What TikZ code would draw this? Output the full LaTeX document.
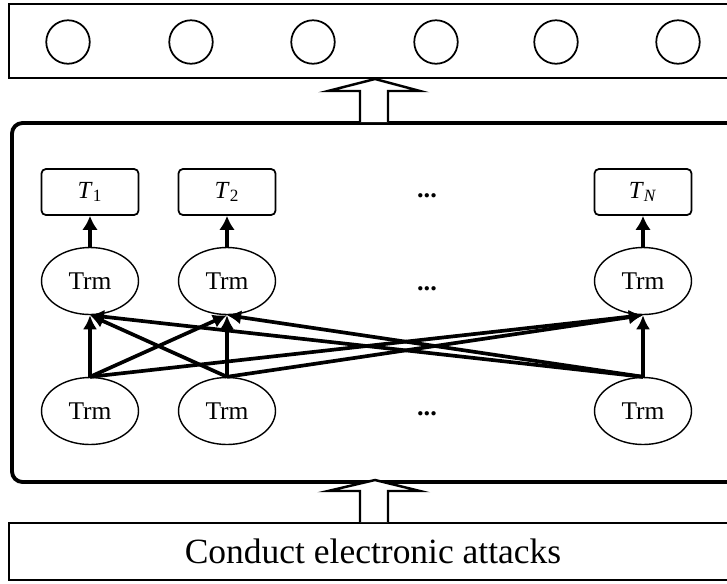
\documentclass[tikz,border=0pt]{standalone}
\usepackage{fontspec}
\setmainfont{Liberation Serif}
\usepackage{tikz}
\usetikzlibrary{arrows.meta, calc, positioning, shapes.geometric}

\begin{document}
\begin{tikzpicture}[x=0.02cm, y=-0.02cm,
		outcirc/.style={draw, circle, line width=1pt, minimum size=0.87cm, inner sep=0pt},
		tbox/.style={draw, rounded corners=2.5pt, line width=1pt, minimum width=1.94cm, minimum height=0.92cm, font=\fontsize{14}{14}\selectfont},
		trm/.style={draw, ellipse, line width=0.8pt, minimum width=1.94cm, minimum height=1.34cm, inner sep=0pt, font=\fontsize{14.5}{15}\selectfont},
		link/.style={line width=2.1pt, -{Latex[length=8pt,width=8pt]}},
		uplink/.style={line width=2.6pt, -{Latex[length=8pt,width=9pt]}},
		hollow/.style={draw, fill=white, line width=1.4pt, line join=miter},
		dotsl/.style={font=\bfseries\fontsize{15}{15}\selectfont}]
			\useasboundingbox (0,0) rectangle (727,583);
			\clip (0,0) rectangle (727,583);
			\pgfmathsetmacro{\colA}{90}
			\pgfmathsetmacro{\colB}{227}
			\pgfmathsetmacro{\colN}{643}
			
			% output layer
			\draw[line width=1.2pt] (9,4) rectangle (745,78);
			\node[outcirc] (o1) at (68,42) {};
			\node[outcirc] (o2) at (191,42) {};
			\node[outcirc] (o3) at (313,42) {};
			\node[outcirc] (o4) at (436,42) {};
			\node[outcirc] (o5) at (556,42) {};
			\node[outcirc] (o6) at (678,42) {};
			
			% transformer block
			\draw[line width=2.2pt, rounded corners=6pt] (12,123) rectangle (760,482);
			\node[tbox] (t1) at (\colA,192) {\textit{T}\textsubscript{1}};
			\node[tbox] (t2) at (\colB,192) {\textit{T}\textsubscript{2}};
			\node[tbox] (tn) at (\colN,192) {\textit{T}\textsubscript{\textit{N}}};
			\node[trm] (u1) at (\colA,281) {Trm};
			\node[trm] (u2) at (\colB,281) {Trm};
			\node[trm] (un) at (\colN,281) {Trm};
			\node[trm] (l1) at (\colA,411) {Trm};
			\node[trm] (l2) at (\colB,411) {Trm};
			\node[trm] (ln) at (\colN,411) {Trm};
			\node[dotsl] (d1) at (427,196) {...};
			\node[dotsl] (d2) at (427,289) {...};
			\node[dotsl] (d3) at (427,414) {...};
			
			\draw[uplink] (u1.north) -- (t1.south);
			\draw[uplink] (u2.north) -- (t2.south);
			\draw[uplink] (un.north) -- (tn.south);
			
			\draw[link] (l1.north) -- (u1.south);
			\draw[link] (l1.north) -- (u2.south);
			\draw[link] (l1.north) -- (un.south);
			\draw[link] (l2.north) -- (u1.south);
			\draw[link] (l2.north) -- (u2.south);
			\draw[link] (l2.north) -- (un.south);
			\draw[link] (ln.north) -- (u1.south);
			\draw[link] (ln.north) -- (u2.south);
			\draw[link] (ln.north) -- (un.south);
			
			% input
			\draw[line width=1.2pt] (9,523) rectangle (745,580);
			\node[font=\fontsize{20.2}{22}\selectfont] (inp) at (373,551) {Conduct electronic attacks};
			
			% hollow arrows
			\draw[hollow] (360,122) -- (360,91) -- (328,91) -- (375,79) -- (420,91) -- (388,91) -- (388,122);
			\draw[hollow] (360,522) -- (360,491) -- (328,491) -- (375,480) -- (420,491) -- (388,491) -- (388,522);
		\end{tikzpicture}
\end{document}
